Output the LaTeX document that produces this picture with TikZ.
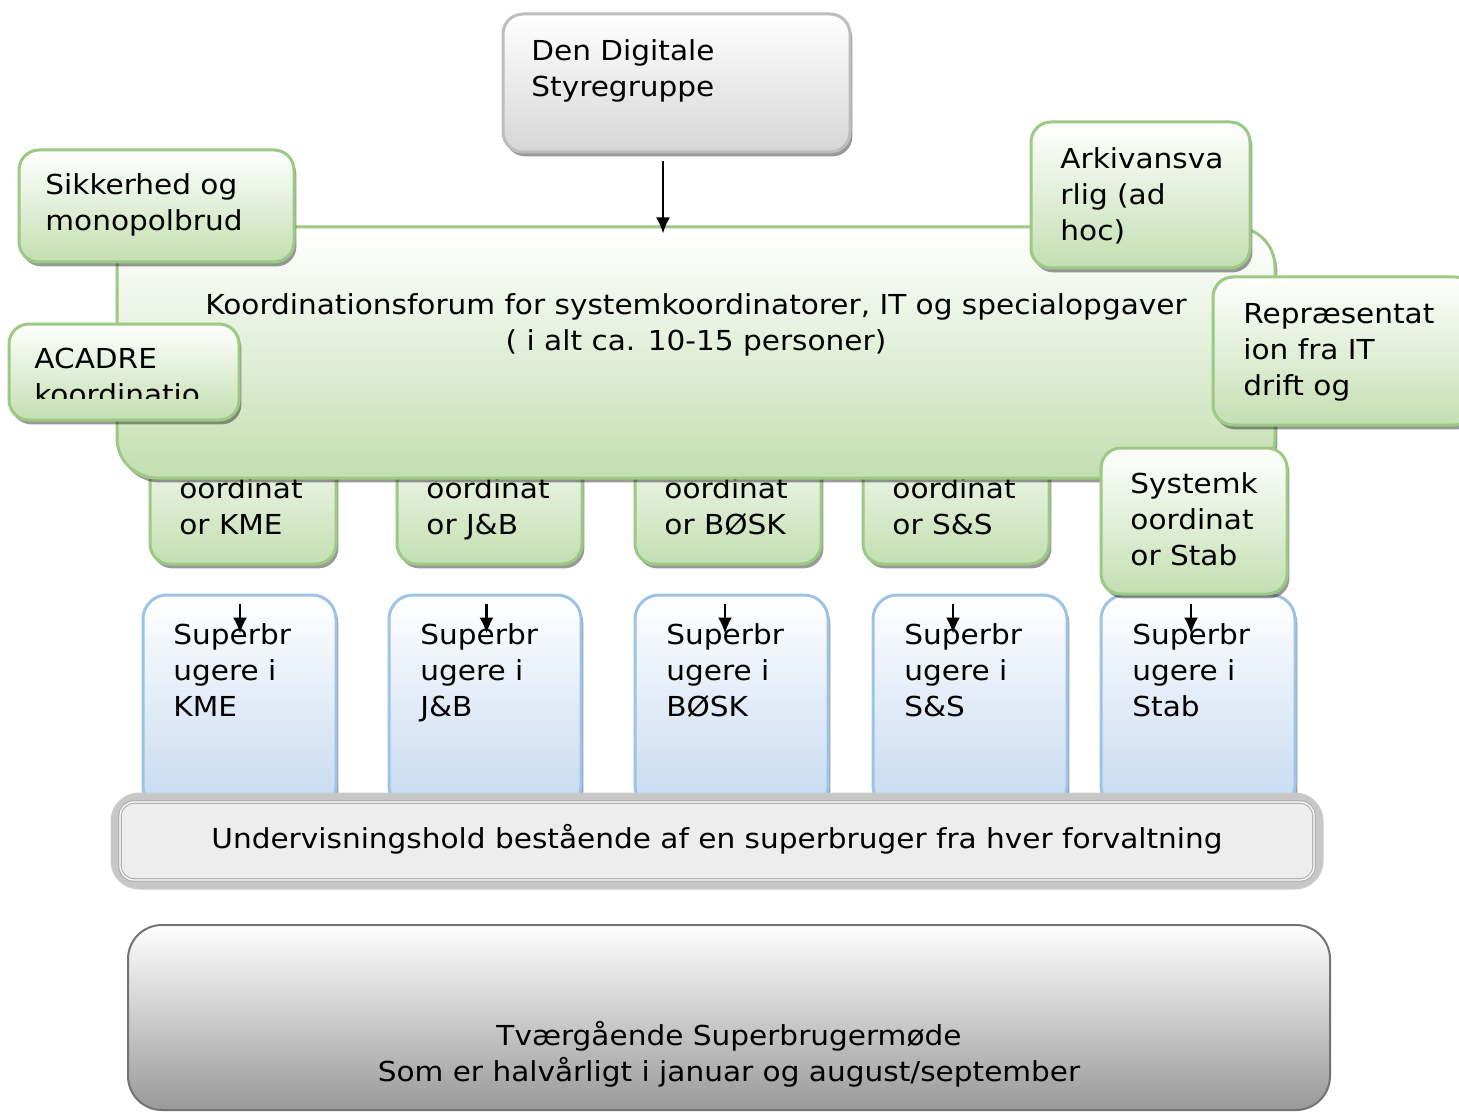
\documentclass[tikz,border=0pt]{standalone}
\usepackage{fontspec}
\setmainfont{DejaVu Sans}[FakeStretch=1.075]
\usetikzlibrary{shadows,fit,calc,arrows.meta}
\definecolor{gline}{HTML}{9CC983}
\definecolor{gbot}{HTML}{C3DFB1}
\definecolor{bline}{HTML}{9DC3E6}
\definecolor{bbot}{HTML}{C5D9F0}
\definecolor{topline}{HTML}{BDBDBD}
\definecolor{topbot}{HTML}{D6D6D6}
\tikzset{
  x=0.5pt, y=-0.5pt,
  shad/.style={drop shadow={shadow xshift=1.2pt, shadow yshift=-2.2pt, fill=black, opacity=0.4}},
  gbox/.style={rounded corners=10pt, draw=gline, line width=1.5pt, top color=white, bottom color=gbot, shad, inner sep=0pt},
  mainbox/.style={rounded corners=20pt, draw=gline, line width=1.5pt, top color=white, bottom color=gbot, shad, inner sep=0pt},
  bbox/.style={rounded corners=12pt, draw=bline, line width=1.5pt, top color=white, bottom color=bbot, shad, inner sep=0pt},
  topbox/.style={rounded corners=10pt, draw=topline, line width=1.5pt, top color=white, bottom color=topbot, shad, inner sep=0pt},
  txt/.style={font=\fontsize{13.75}{18}\selectfont, inner sep=0pt, align=left, anchor=north west, execute at begin node=\strut},
  ctxt/.style={txt, align=center, anchor=north},
  arr/.style={line width=1.1pt, -{Latex[length=8pt,width=7pt]}},
}
\begin{document}
\begin{tikzpicture}
\useasboundingbox (0,0) rectangle (1459,1112);

% bottom meeting box
\node[fit={(128,925) (1330,1110)}, inner sep=0pt, rounded corners=17pt, draw=black!55, line width=1pt,
      top color=white, middle color=black!13, bottom color=black!40] (tvaer) {};
\node[ctxt] (tvaerT) at (729,1021) {Tværgående Superbrugermøde\\Som er halvårligt i januar og august/september};

% superuser boxes
\node[bbox, fit={(143,595) (336,810)}] (sKME) {};
\node[bbox, fit={(389,595) (581,810)}] (sJB) {};
\node[bbox, fit={(635,595) (828,810)}] (sBOSK) {};
\node[bbox, fit={(873,595) (1067,810)}] (sSS) {};
\node[bbox, fit={(1101,595) (1295,810)}] (sStab) {};
\node[txt] (sKMEt) at (173,623) {Superbr\\ugere i\\KME};
\node[txt] (sJBt) at (420,623) {Superbr\\ugere i\\J\&B};
\node[txt] (sBOSKt) at (666,623) {Superbr\\ugere i\\BØSK};
\node[txt] (sSSt) at (904,623) {Superbr\\ugere i\\S\&S};
\node[txt] (sStabt) at (1132,623) {Superbr\\ugere i\\Stab};

% teaching team box
\node[fit={(111,793) (1323,889)}, inner sep=0pt, rounded corners=14pt, fill=black!22, draw=black!20, line width=0.5pt] (underv) {};
\node[fit={(120,802) (1314,880)}, inner sep=0pt, rounded corners=7pt, fill=black!7, draw=black!30, line width=0.6pt, double=white, double distance=0.6pt] (undervIn) {};
\node[ctxt] (undervT) at (717,823) {Undervisningshold bestående af en superbruger fra hver forvaltning};

% coordinator boxes (behind forum)
\node[gbox, fit={(150,418) (336,564)}] (cKME) {};
\node[gbox, fit={(397,418) (582,564)}] (cJB) {};
\node[gbox, fit={(635,418) (821,564)}] (cBOSK) {};
\node[gbox, fit={(863,418) (1049,564)}] (cSS) {};
\node[txt] (cKMEt) at (179,441) {Systemk\\oordinat\\or KME};
\node[txt] (cJBt) at (426,441) {Systemk\\oordinat\\or J\&B};
\node[txt] (cBOSKt) at (664,441) {Systemk\\oordinat\\or BØSK};
\node[txt] (cSSt) at (892,441) {Systemk\\oordinat\\or S\&S};

% forum
\node[mainbox, fit={(117,227) (1275,478)}] (forum) {};
\node[ctxt] (forumT) at (696,293) {Koordinationsforum for systemkoordinatorer, IT og specialopgaver\\( i alt ca. 10-15 personer)};

% Stab coordinator (on top)
\node[gbox, fit={(1101,448) (1287,594)}] (cStab) {};
\node[txt] (cStabt) at (1130,472) {Systemk\\oordinat\\or Stab};

% small arrows coordinator -> superusers
\foreach \c/\s in {cKME/sKME, cJB/sJB, cBOSK/sBOSK, cSS/sSS, cStab/sStab}{
  \draw[arr] ($(\c.south |- \s.north)+(-3,10)$) -- ($(\c.south |- \s.north)+(-3,40)$);
}

% side boxes
\node[gbox, fit={(19,150) (294,262)}] (sik) {};
\node[txt] (sikT) at (45,173) {Sikkerhed og\\monopolbrud};

\node[gbox, fit={(9,324) (239,420)}] (acadre) {};
\begin{scope}
  \clip (9,324) rectangle (239,398);
  \node[txt] (acadreT) at (34,348) {ACADRE\\koordinatio};
\end{scope}

\node[gbox, fit={(1031,122) (1250,268)}] (arkiv) {};
\node[txt] (arkivT) at (1060,147) {Arkivansva\\rlig (ad\\hoc)};

\node[gbox, fit={(1213,277) (1475,425)}] (repr) {};
\node[txt] (reprT) at (1243,303) {Repræsentat\\ion fra IT\\drift og};

% top box
\node[topbox, fit={(503,14) (850,152)}] (styr) {};
\node[txt] (styrT) at (531,39) {Den Digitale\\Styregruppe};

\draw[arr, shorten <=4pt, shorten >=-4pt] (styr.south -| 663,0) -- (forum.north -| 663,0);
\end{tikzpicture}
\end{document}
